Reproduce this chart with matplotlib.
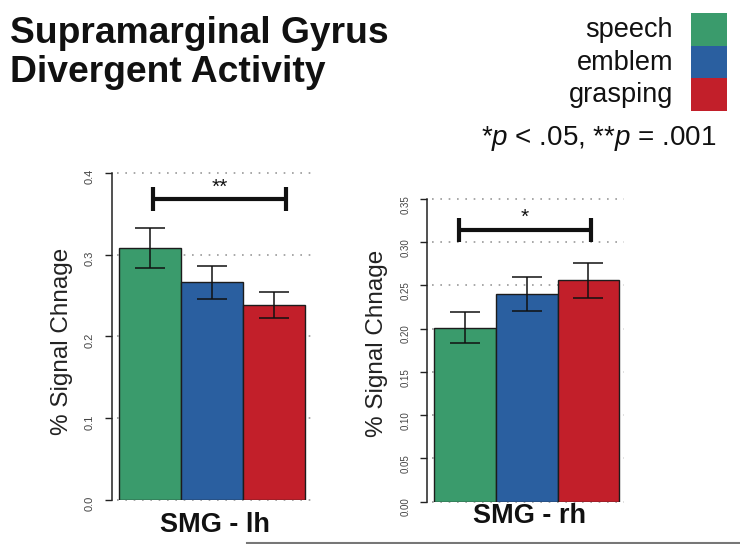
import numpy as np
import matplotlib
matplotlib.use('Agg')
import matplotlib.pyplot as plt
from matplotlib.patches import Rectangle
from matplotlib.lines import Line2D

plt.rcParams['font.family'] = ['Liberation Sans', 'DejaVu Sans']
plt.rcParams['mathtext.fontset'] = 'custom'
plt.rcParams['mathtext.rm'] = 'Liberation Sans'
plt.rcParams['mathtext.it'] = 'Liberation Sans:italic'

# data
CONDITIONS = ['speech', 'emblem', 'grasping']
COLORS = ['#3a9b6c', '#2a5fa0', '#c21f2a']

LH_MEANS = [0.308, 0.266, 0.238]
LH_SEM = [0.024, 0.020, 0.016]
LH_TICKS = [0.0, 0.1, 0.2, 0.3, 0.4]
LH_TICKLABELS = ['0.0', '0.1', '0.2', '0.3', '0.4']

RH_MEANS = [0.201, 0.240, 0.256]
RH_SEM = [0.018, 0.020, 0.020]
RH_TICKS = [0.0, 0.05, 0.10, 0.15, 0.20, 0.25, 0.30, 0.35]
RH_TICKLABELS = ['0.00', '0.05', '0.10', '0.15', '0.20', '0.25', '0.30', '0.35']

W, H = 740, 544
fig = plt.figure(figsize=(W / 100, H / 100), dpi=100)


def fx(px):
    return px / W


def fy(py):
    return 1 - py / H


def draw_panel(rect, xlim, means, sem, yticks, yticklabels, tick_fs,
               grid_x, bracket, stars, star_y, label_xy):
    ax = fig.add_axes(rect)
    x = np.arange(len(means))
    ax.bar(x, means, width=1.0, color=COLORS, edgecolor='#1c1c1c',
           linewidth=1.0, zorder=2)
    ax.errorbar(x, means, yerr=sem, fmt='none', ecolor='#111111',
                elinewidth=1.1, capsize=11, capthick=1.1, zorder=3)
    # dotted guide lines behind the bars
    ax.hlines(yticks, grid_x[0], grid_x[1], colors='#9a9a9a',
              linestyles=(0, (1, 4)), linewidth=1.2, zorder=1, clip_on=False)

    # significance bracket
    x0, x1, yb, ylo, yhi = bracket
    kw = dict(color='#111111', lw=3, solid_capstyle='butt', clip_on=False, zorder=4)
    ax.plot([x0, x1], [yb, yb], **kw)
    ax.plot([x0, x0], [ylo, yhi], **kw)
    ax.plot([x1, x1], [ylo, yhi], **kw)
    ax.text((x0 + x1) / 2, star_y, stars, ha='center', va='baseline',
            fontsize=15, color='#111111')

    ax.set_xlim(*xlim)
    ax.set_ylim(yticks[0], yticks[-1])
    ax.set_xticks([])
    ax.set_yticks(yticks, yticklabels)
    ax.tick_params(axis='y', length=5, width=1, labelsize=tick_fs, pad=7,
                   labelrotation=90, colors='#222222', labelcolor='#444444')
    for s in ['top', 'right', 'bottom']:
        ax.spines[s].set_visible(False)
    ax.spines['left'].set_linewidth(1.1)
    ax.spines['left'].set_color('#222222')
    ax.set_ylabel('% Signal Chnage', fontsize=17.5, color='#222222')
    ax.yaxis.set_label_coords(*label_xy)
    return ax


ax_l = draw_panel([fx(111.7), fy(500), (315 - 111.7) / W, 327.3 / H],
                  (-0.623, 2.662), LH_MEANS, LH_SEM, LH_TICKS, LH_TICKLABELS, 8,
                  (-0.537, 2.613), (0.049, 2.193, 0.368, 0.353, 0.382), '**', 0.375,
                  (-0.188, 0.484))
ax_r = draw_panel([fx(427.3), fy(501.7), (627 - 427.3) / W, 302.7 / H],
                  (-0.608, 2.625), RH_MEANS, RH_SEM, RH_TICKS, RH_TICKLABELS, 7,
                  (-0.537, 2.58), (-0.095, 2.036, 0.314, 0.3006, 0.328), '*', 0.3225,
                  (-0.198, 0.523))

fig.text(fx(215), fy(531.7), 'SMG - lh', ha='center', va='baseline',
         fontsize=19.5, fontweight='bold', color='#111111')
fig.text(fx(529.5), fy(522.7), 'SMG - rh', ha='center', va='baseline',
         fontsize=19.5, fontweight='bold', color='#111111')

# title
fig.text(fx(10), fy(43.3), 'Supramarginal Gyrus', ha='left', va='baseline',
         fontsize=26.8, fontweight='bold', color='#111111')
fig.text(fx(10), fy(81.7), 'Divergent Activity', ha='left', va='baseline',
         fontsize=26.8, fontweight='bold', color='#111111')

# colour key
box_h = 32.47
for i, (name, c) in enumerate(zip(CONDITIONS, COLORS)):
    top = 13.3 + box_h * i
    fig.add_artist(Rectangle((fx(690.7), fy(top + box_h)), 36.6 / W, box_h / H,
                             transform=fig.transFigure, facecolor=c, edgecolor='none'))
    fig.text(fx(673), fy(top + box_h / 2 + 7.5), name, ha='right', va='baseline',
             fontsize=19.5, color='#111111')

fig.text(fx(716.7), fy(145), r'*$p$ < .05, **$p$ = .001', ha='right', va='baseline',
         fontsize=20, color='#111111')

fig.add_artist(Line2D([fx(247), 1], [fy(542.5), fy(542.5)], color='#777777', lw=1.5))

fig.savefig('out.png', dpi=100)
